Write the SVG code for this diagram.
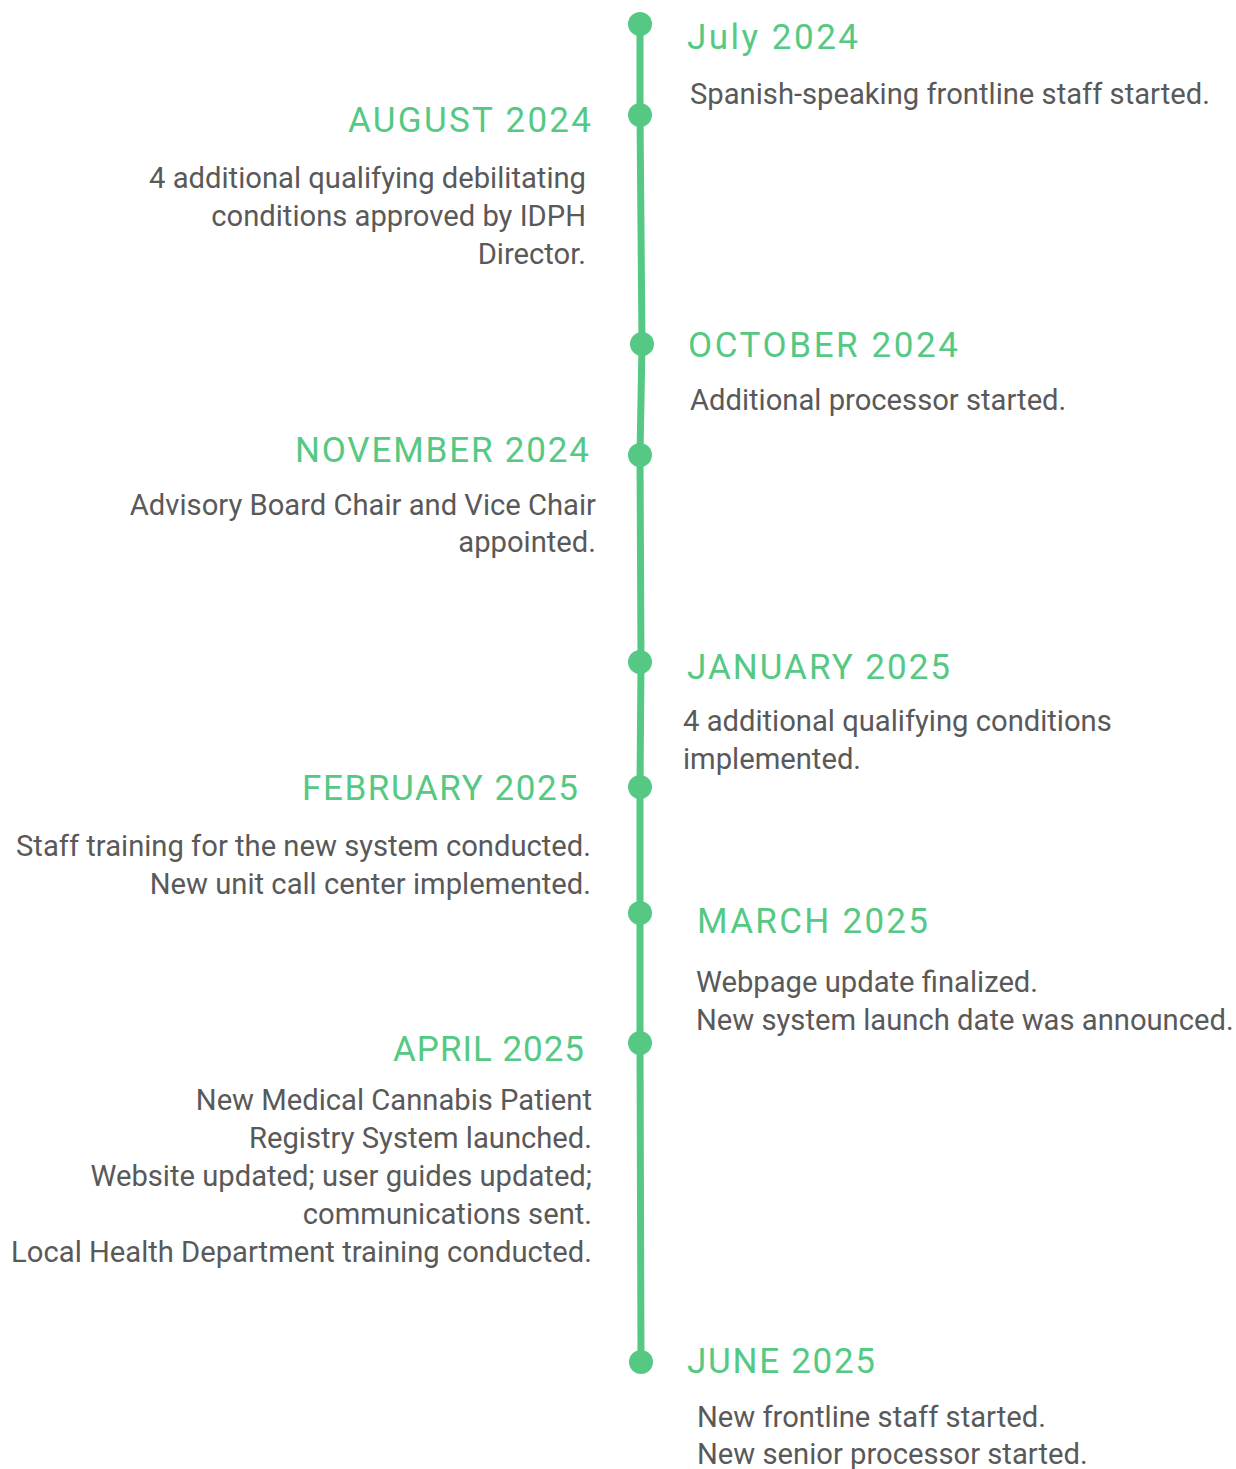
<svg xmlns="http://www.w3.org/2000/svg" width="1236" height="1469" viewBox="0 0 1236 1469">
<style>
.t{font-family:Roboto,"Liberation Sans",sans-serif;font-size:35px;fill:#55c983;}
.b{font-family:Roboto,"Liberation Sans",sans-serif;font-size:29.2px;fill:#595959;}
.r{text-anchor:end;}
.dot{fill:#55c983;}
</style>
<rect width="1236" height="1469" fill="#ffffff"/>
<g id="connectors" fill="none" stroke="#55c983" stroke-width="7" stroke-linecap="round">
<polyline points="640,24 640,115 642,344 640,455 641,662 640,787 640,913 640,1043 641,1362"/>
</g>
<g id="july2024"><circle class="dot" cx="640" cy="24" r="12"/><text class="t" x="687" y="49" textLength="171" lengthAdjust="spacing">July 2024</text><text class="b" x="690" y="104">Spanish-speaking frontline staff started.</text></g>
<g id="aug2024"><circle class="dot" cx="640" cy="115" r="12"/><text class="t r" x="591" y="132" textLength="243" lengthAdjust="spacing">AUGUST 2024</text><text class="b r" x="586"><tspan x="586" y="188">4 additional qualifying debilitating</tspan><tspan x="586" y="226">conditions approved by IDPH</tspan><tspan x="586" y="264">Director.</tspan></text></g>
<g id="oct2024"><circle class="dot" cx="642" cy="344" r="12"/><text class="t" x="688" y="357" textLength="270" lengthAdjust="spacing">OCTOBER 2024</text><text class="b" x="690" y="410">Additional processor started.</text></g>
<g id="nov2024"><circle class="dot" cx="640" cy="455" r="12"/><text class="t r" x="589" y="462" textLength="294" lengthAdjust="spacing">NOVEMBER 2024</text><text class="b r"><tspan x="596" y="515">Advisory Board Chair and Vice Chair</tspan><tspan x="596" y="552">appointed.</tspan></text></g>
<g id="jan2025"><circle class="dot" cx="640" cy="662" r="12"/><text class="t" x="687" y="679" textLength="263" lengthAdjust="spacing">JANUARY 2025</text><text class="b"><tspan x="683" y="731">4 additional qualifying conditions</tspan><tspan x="683" y="769">implemented.</tspan></text></g>
<g id="feb2025"><circle class="dot" cx="640" cy="787" r="12"/><text class="t r" x="578" y="800" textLength="276" lengthAdjust="spacing">FEBRUARY 2025</text><text class="b r"><tspan x="591" y="856">Staff training for the new system conducted.</tspan><tspan x="591" y="894">New unit call center implemented.</tspan></text></g>
<g id="mar2025"><circle class="dot" cx="640" cy="913" r="12"/><text class="t" x="697" y="933" textLength="231" lengthAdjust="spacing">MARCH 2025</text><text class="b"><tspan x="696" y="992">Webpage update finalized.</tspan><tspan x="696" y="1030">New system launch date was announced.</tspan></text></g>
<g id="apr2025"><circle class="dot" cx="640" cy="1043" r="12"/><text class="t r" x="584" y="1061" textLength="191" lengthAdjust="spacing">APRIL 2025</text><text class="b r"><tspan x="592" y="1110">New Medical Cannabis Patient</tspan><tspan x="592" y="1148">Registry System launched.</tspan><tspan x="592" y="1186">Website updated; user guides updated;</tspan><tspan x="592" y="1224">communications sent.</tspan><tspan x="592" y="1262">Local Health Department training conducted.</tspan></text></g>
<g id="jun2025"><circle class="dot" cx="641" cy="1362" r="12"/><text class="t" x="687" y="1373" textLength="188" lengthAdjust="spacing">JUNE 2025</text><text class="b"><tspan x="697" y="1427">New frontline staff started.</tspan><tspan x="697" y="1464">New senior processor started.</tspan></text></g>
</svg>
